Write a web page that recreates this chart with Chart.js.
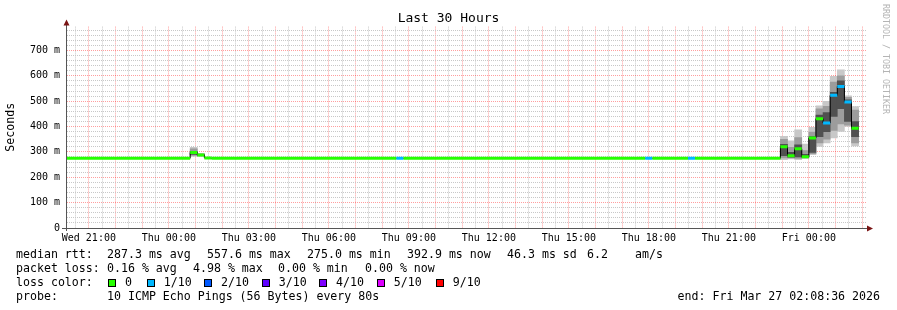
<!DOCTYPE html>
<html lang="en">
<head>
<meta charset="UTF-8">
<title>Last 30 Hours</title>
<script src="https://cdn.jsdelivr.net/npm/chart.js"></script>
<style>
  body { margin: 0; background: #fff; }
  #wrap {
    position: relative;
    width: 897px;
    height: 310px;
    font-family: 'DejaVu Sans Mono', monospace;
    color: #000;
  }
  #chart { position: absolute; left: 0; top: 0; }
  .t { position: absolute; font-size: 11.6px; line-height: 14px; white-space: pre; }
  .sw { position: absolute; top: 279px; width: 6px; height: 6px; border: 1px solid #000; }
  #rrd {
    position: absolute;
    left: 881px;
    top: 4px;
    writing-mode: vertical-rl;
    font-size: 8.3px;
    line-height: 10px;
    color: #b4b4b4;
    white-space: pre;
  }
</style>
</head>
<body>
<div id="wrap">
  <canvas id="chart" width="897" height="310"></canvas>

  <!-- rrdtool style legend -->
  <div class="t" style="left:16px;top:247px">median rtt:</div>
  <div class="t" style="left:107px;top:247px">287.3 ms avg</div>
  <div class="t" style="left:207px;top:247px">557.6 ms max</div>
  <div class="t" style="left:307px;top:247px">275.0 ms min</div>
  <div class="t" style="left:407px;top:247px">392.9 ms now</div>
  <div class="t" style="left:507px;top:247px">46.3 ms sd</div>
  <div class="t" style="left:587px;top:247px">6.2</div>
  <div class="t" style="left:635px;top:247px">am/s</div>

  <div class="t" style="left:16px;top:261px">packet loss:</div>
  <div class="t" style="left:107px;top:261px">0.16 % avg</div>
  <div class="t" style="left:193px;top:261px">4.98 % max</div>
  <div class="t" style="left:278px;top:261px">0.00 % min</div>
  <div class="t" style="left:365px;top:261px">0.00 % now</div>

  <div class="t" style="left:16px;top:275px">loss color:</div>
  <div id="lossKey"></div>

  <div class="t" style="left:16px;top:289px">probe:</div>
  <div class="t" style="left:107px;top:289px">10 ICMP Echo Pings (56 Bytes) every 80s</div>
  <div class="t" style="right:17px;top:289px">end: Fri Mar 27 02:08:36 2026</div>

  <div id="rrd">RRDTOOL / TOBI OETIKER</div>
</div>

<script>
// x axis runs in minutes counted from Wed 00:00
const dayIndex = { Wed: 0, Thu: 1, Fri: 2 };
function mins(stamp) {
    const [day, clock] = stamp.split(' ');
    const [h, m, s] = clock.split(':').map(Number);
    return dayIndex[day] * 1440 + h * 60 + m + (s || 0) / 60;
}

const rangeStart = 'Wed 20:08:36';
const rangeEnd = 'Fri 02:08:36';
const dataEnd = 'Fri 01:52';
const stepMinutes = 16;

// loss buckets
const lossLabels = ['0', '1/10', '2/10', '3/10', '4/10', '5/10', '9/10'];
const lossColors = ['#26ff00', '#00b8ff', '#0059ff', '#5e00ff', '#7e00ff', '#dd00ff', '#ff0000'];

// median rtt (ms) from each change point on, with its loss bucket
const medianTimes = ['Wed 20:08:36', 'Thu 00:48', 'Thu 01:04', 'Thu 01:20', 'Thu 01:36',
    'Thu 08:32', 'Thu 08:48', 'Thu 17:52', 'Thu 18:08', 'Thu 19:28', 'Thu 19:44',
    'Thu 22:56', 'Thu 23:12', 'Thu 23:28', 'Thu 23:44', 'Fri 00:00', 'Fri 00:16',
    'Fri 00:32', 'Fri 00:48', 'Fri 01:04', 'Fri 01:20', 'Fri 01:36'];
const medianMs = [275, 298, 288, 276, 275, 275, 275, 275, 275, 275, 275,
    320, 285, 312, 281, 355, 431, 414, 523, 558, 497, 393];
const medianLoss = [0, 0, 0, 0, 0, 1, 0, 1, 0, 1, 0,
    0, 0, 0, 0, 0, 0, 1, 1, 1, 1, 0];

// smoke: spread of the single pings per step (ms)
const smokeTimes = ['Thu 00:48', 'Thu 01:04', 'Thu 22:56', 'Thu 23:12', 'Thu 23:28', 'Thu 23:44',
    'Fri 00:00', 'Fri 00:16', 'Fri 00:32', 'Fri 00:48', 'Fri 01:04', 'Fri 01:20', 'Fri 01:36'];
const smokeMin = [282, 283, 269, 272, 269, 274, 289, 322, 335, 355, 381, 400, 324];
const smokeMax = [318, 294, 361, 344, 387, 331, 397, 482, 499, 598, 624, 521, 479];
const midLo = [286, 284, 276, 276, 274, 276, 293, 335, 350, 385, 410, 405, 335];
const midHi = [312, 292, 350, 318, 356, 305, 378, 470, 480, 575, 600, 515, 465];
const coreLo = [290, 285, 285, 279, 280, 277, 298, 360, 380, 440, 470, 420, 360];
const coreHi = [302, 290, 330, 298, 328, 290, 360, 445, 455, 535, 580, 505, 420];

// axis labels
const yLabels = ['0', '100 m', '200 m', '300 m', '400 m', '500 m', '600 m', '700 m'];
const xLabels = ['Wed 21:00', 'Thu 00:00', 'Thu 03:00', 'Thu 06:00', 'Thu 09:00',
    'Thu 12:00', 'Thu 15:00', 'Thu 18:00', 'Thu 21:00', 'Fri 00:00'];
const xLabelMins = xLabels.map(mins);

// loss color key under the chart
const lossKeyX = [108, 146.7, 204, 261.7, 319, 376.7, 435.7];
const keyBox = document.getElementById('lossKey');
lossLabels.forEach((lab, i) => {
    keyBox.insertAdjacentHTML('beforeend',
        `<span class="sw" style="left:${lossKeyX[i]}px;background:${lossColors[i]}"></span>` +
        `<span class="t" style="left:${lossKeyX[i] + 17}px;top:275px">${lab}</span>`);
});

// datasets
const medianPts = [];
medianTimes.forEach((t, i) => {
    const x0 = mins(t);
    const x1 = i + 1 < medianTimes.length ? mins(medianTimes[i + 1]) : mins(dataEnd);
    medianPts.push({ x: x0, y: medianMs[i] }, { x: x1, y: medianMs[i] }, { x: x1, y: null });
});
const stepPts = medianTimes.map((t, i) => ({ x: mins(t), y: medianMs[i] }));
stepPts.push({ x: mins(dataEnd), y: medianMs[medianMs.length - 1] });

function smokeLayer(lo, hi, color) {
    return {
        type: 'bar',
        data: smokeTimes.map((t, i) => ({ x: mins(t) + stepMinutes / 2, y: [lo[i], hi[i]] })),
        backgroundColor: color,
        borderWidth: 0,
        grouped: false,
        barPercentage: 1,
        categoryPercentage: 1
    };
}

const MONO = 'DejaVu Sans Mono';
const majorRed = 'rgba(255, 0, 0, 0.38)';
const minorGray = '#c8c8c8';

const axisArrows = {
    id: 'axisArrows',
    afterDraw(chart) {
        const { ctx, chartArea: a } = chart;
        const lx = Math.round(a.left) + 0.5;
        const by = Math.round(a.bottom) + 0.5;
        ctx.save();
        ctx.strokeStyle = '#555';
        ctx.lineWidth = 1;
        ctx.beginPath();
        ctx.moveTo(a.left - 4, by);
        ctx.lineTo(a.right + 4, by);
        ctx.moveTo(lx, a.bottom + 3);
        ctx.lineTo(lx, a.top - 3);
        ctx.stroke();
        ctx.fillStyle = '#7a1414';
        ctx.beginPath();
        ctx.moveTo(lx, a.top - 7);
        ctx.lineTo(lx - 3, a.top - 1);
        ctx.lineTo(lx + 3, a.top - 1);
        ctx.fill();
        ctx.beginPath();
        ctx.moveTo(a.right + 7, by);
        ctx.lineTo(a.right + 1, by - 3);
        ctx.lineTo(a.right + 1, by + 3);
        ctx.fill();
        ctx.restore();
    }
};

new Chart(document.getElementById('chart'), {
    type: 'bar',
    data: {
        datasets: [
            {
                type: 'line',
                data: medianPts,
                borderWidth: 3,
                pointRadius: 0,
                spanGaps: false,
                segment: {
                    borderColor: c => lossColors[medianLoss[Math.floor(c.p0DataIndex / 3)]]
                }
            },
            {
                type: 'line',
                data: stepPts,
                stepped: true,
                borderColor: '#000',
                borderWidth: 1,
                pointRadius: 0
            },
            smokeLayer(coreLo, coreHi, '#505050'),
            smokeLayer(midLo, midHi, '#9c9c9c'),
            smokeLayer(smokeMin, smokeMax, '#c8c8c8')
        ]
    },
    options: {
        responsive: false,
        animation: false,
        layout: { padding: 0 },
        plugins: {
            legend: { display: false },
            tooltip: { enabled: false },
            title: {
                display: true,
                text: 'Last 30 Hours',
                color: '#000',
                font: { family: MONO, size: 13, weight: 'normal' },
                padding: { top: 11, bottom: 0 }
            }
        },
        scales: {
            x: {
                type: 'linear',
                offset: false,
                min: mins(rangeStart),
                max: mins(rangeEnd),
                afterBuildTicks: axis => {
                    const ticks = [];
                    for (let v = 1230; v < mins(rangeEnd); v += 30) ticks.push({ value: v });
                    axis.ticks = ticks;
                },
                afterFit: s => { s.height = 82; },
                ticks: {
                    autoSkip: false,
                    maxRotation: 0,
                    padding: 4,
                    color: '#000',
                    font: { family: MONO, size: 10 },
                    callback: v => {
                        const i = xLabelMins.indexOf(v);
                        return i >= 0 ? xLabels[i] : '';
                    }
                },
                grid: {
                    offset: false,
                    drawTicks: false,
                    color: c => (c.tick && c.tick.value % 60 === 0 ? majorRed : minorGray)
                },
                border: { color: '#555', dash: [1, 1] }
            },
            y: {
                min: 0,
                max: 794,
                afterBuildTicks: axis => {
                    const ticks = [];
                    for (let v = 0; v <= 780; v += 20) ticks.push({ value: v });
                    axis.ticks = ticks;
                },
                afterFit: s => { s.width = 66; },
                title: {
                    display: true,
                    text: 'Seconds',
                    color: '#000',
                    font: { family: MONO, size: 11.6 },
                    padding: { top: 4, bottom: 0 }
                },
                ticks: {
                    autoSkip: false,
                    padding: 6,
                    color: '#000',
                    font: { family: MONO, size: 10 },
                    callback: v => (v % 100 === 0 ? yLabels[v / 100] : '')
                },
                grid: {
                    drawTicks: false,
                    color: c => (c.tick && c.tick.value % 100 === 0 ? majorRed : minorGray)
                },
                border: { color: '#555', dash: [1, 1] }
            },
            yRight: {
                position: 'right',
                afterFit: s => { s.width = 31; },
                ticks: { display: false },
                grid: { display: false },
                border: { display: false }
            }
        }
    },
    plugins: [axisArrows]
});
</script>
</body>
</html>
